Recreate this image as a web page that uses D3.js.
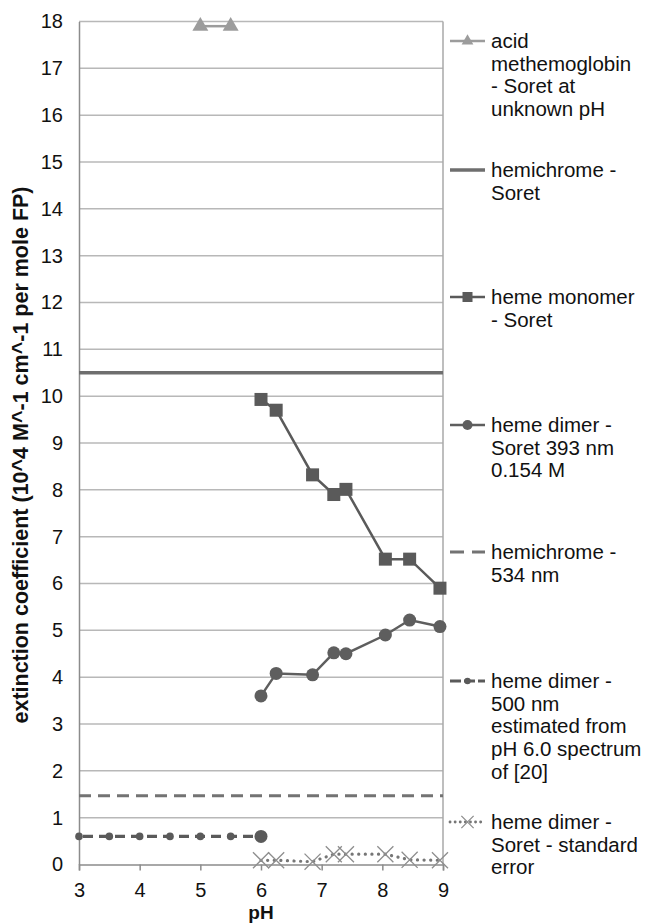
<!DOCTYPE html>
<html>
<head>
<meta charset="utf-8">
<script src="https://cdn.jsdelivr.net/npm/d3@7"></script>
<style>
  html, body { margin: 0; padding: 0; background: #fff; }
  svg { display: block; font-family: "Liberation Sans", Arial, sans-serif; }
</style>
</head>
<body>
<svg id="chart" width="649" height="924"></svg>
<script>
// pH axis ticks and extinction axis ticks
const xTicks = [3, 4, 5, 6, 7, 8, 9];
const yTicks = d3.range(0, 19);

// acid methemoglobin, Soret at unknown pH
const acidMetPH = [5.0, 5.5];
const acidMetEps = [17.9, 17.9];

// hemichrome Soret (constant)
const hemichromeSoretPH = [3, 9];
const hemichromeSoretEps = [10.5, 10.5];

// heme monomer, Soret
const monomerPH = [6.0, 6.25, 6.85, 7.2, 7.4, 8.05, 8.45, 8.95];
const monomerEps = [9.93, 9.7, 8.32, 7.9, 8.01, 6.52, 6.52, 5.9];

// heme dimer, Soret 393 nm, 0.154 M
const dimerPH = [6.0, 6.25, 6.85, 7.2, 7.4, 8.05, 8.45, 8.95];
const dimerEps = [3.6, 4.08, 4.05, 4.52, 4.5, 4.9, 5.22, 5.08];

// hemichrome 534 nm (constant)
const hemichrome534PH = [3, 9];
const hemichrome534Eps = [1.47, 1.47];

// heme dimer 500 nm, estimated from pH 6.0 spectrum
const dimer500PH = [3.0, 3.5, 4.0, 4.5, 5.0, 5.5, 6.0];
const dimer500Eps = [0.6, 0.6, 0.6, 0.6, 0.6, 0.6, 0.6];

// heme dimer Soret standard error
const stdErrPH = [6.0, 6.25, 6.85, 7.2, 7.4, 8.05, 8.45, 8.95];
const stdErrEps = [0.09, 0.09, 0.06, 0.22, 0.22, 0.22, 0.1, 0.09];

// legend entries
const legendLabels = [
  ["acid", "methemoglobin", "- Soret at", "unknown pH"],
  ["hemichrome -", "Soret"],
  ["heme monomer", "- Soret"],
  ["heme dimer -", "Soret 393 nm", "0.154 M"],
  ["hemichrome -", "534 nm"],
  ["heme dimer -", "500 nm", "estimated from", "pH 6.0 spectrum", "of [20]"],
  ["heme dimer -", "Soret - standard", "error"]
];

const svg = d3.select("#chart");
const plot = { left: 79, right: 443, top: 21.5, bottom: 864.5 };

const x = d3.scaleLinear().domain([3, 9]).range([plot.left, plot.right]);
const y = d3.scaleLinear().domain([0, 18]).range([plot.bottom, plot.top]);

const zip = (a, b) => a.map((v, i) => [v, b[i]]);
const line = d3.line().x(d => x(d[0])).y(d => y(d[1]));

// gridlines
svg.append("g")
  .selectAll("line")
  .data(yTicks.filter(v => v > 0))
  .join("line")
  .attr("x1", plot.left).attr("x2", plot.right)
  .attr("y1", d => y(d)).attr("y2", d => y(d))
  .attr("stroke", "#b8b8b8").attr("stroke-width", 1.5);

// right border
svg.append("line")
  .attr("x1", plot.right).attr("x2", plot.right)
  .attr("y1", plot.top).attr("y2", plot.bottom)
  .attr("stroke", "#a8a8a8").attr("stroke-width", 1.5);

// y axis
const yAxis = svg.append("g")
  .attr("transform", `translate(${plot.left},0)`)
  .call(d3.axisLeft(y).tickValues(yTicks).tickSize(0).tickPadding(16).tickFormat(d3.format("d")));
yAxis.select(".domain").attr("stroke", "#8c8c8c").attr("stroke-width", 1.5);
yAxis.selectAll("text").attr("font-size", 20).attr("fill", "#111")
  .attr("font-family", "Liberation Sans, Arial, sans-serif");

// x axis
const xAxis = svg.append("g")
  .attr("transform", `translate(0,${plot.bottom})`)
  .call(d3.axisBottom(x).tickValues(xTicks).tickSize(6).tickPadding(12).tickFormat(d3.format("d")));
xAxis.select(".domain").attr("stroke", "#8c8c8c").attr("stroke-width", 1.5);
xAxis.selectAll(".tick line").attr("stroke", "#8c8c8c").attr("stroke-width", 1.5);
xAxis.selectAll("text").attr("font-size", 20).attr("fill", "#111")
  .attr("font-family", "Liberation Sans, Arial, sans-serif");

// axis titles
svg.append("text")
  .attr("x", x(6)).attr("y", 919)
  .attr("text-anchor", "middle")
  .attr("font-size", 19).attr("font-weight", "bold").attr("fill", "#111")
  .text("pH");

svg.append("text")
  .attr("transform", `translate(28,455) rotate(-90)`)
  .attr("text-anchor", "middle")
  .attr("font-size", 21.5).attr("font-weight", "bold").attr("fill", "#111")
  .text("extinction coefficient (10^4 M^-1 cm^-1 per mole FP)");

// marker helpers
const tri = d3.symbol().type(d3.symbolTriangle).size(110);
const cross = d3.symbol().type(d3.symbolX).size(170);

// hemichrome Soret
svg.append("path").datum(zip(hemichromeSoretPH, hemichromeSoretEps))
  .attr("d", line).attr("fill", "none")
  .attr("stroke", "#6e6e6e").attr("stroke-width", 3.5);

// hemichrome 534 nm
svg.append("path").datum(zip(hemichrome534PH, hemichrome534Eps))
  .attr("d", line).attr("fill", "none")
  .attr("stroke", "#737373").attr("stroke-width", 3)
  .attr("stroke-dasharray", "12,7");

// heme dimer 500 nm
const d500 = zip(dimer500PH, dimer500Eps);
svg.append("path").datum(d500)
  .attr("d", line).attr("fill", "none")
  .attr("stroke", "#5a5a5a").attr("stroke-width", 3.2)
  .attr("stroke-dasharray", "10,6").attr("stroke-dashoffset", -4);
svg.append("g").selectAll("circle").data(d500).join("circle")
  .attr("cx", d => x(d[0])).attr("cy", d => y(d[1]))
  .attr("r", (d, i) => i === d500.length - 1 ? 6.5 : 3.8)
  .attr("fill", "#5a5a5a");

// standard error
const dErr = zip(stdErrPH, stdErrEps);
svg.append("path").datum(dErr)
  .attr("d", line).attr("fill", "none")
  .attr("stroke", "#767676").attr("stroke-width", 3.2)
  .attr("stroke-linecap", "round")
  .attr("stroke-dasharray", "0.1,6.5");
svg.append("g").selectAll("path").data(dErr).join("path")
  .attr("transform", d => `translate(${x(d[0])},${y(d[1])})`)
  .attr("d", cross).attr("fill", "none")
  .attr("stroke", "#8e8e8e").attr("stroke-width", 1.3);

// heme dimer Soret
const dDim = zip(dimerPH, dimerEps);
svg.append("path").datum(dDim)
  .attr("d", line).attr("fill", "none")
  .attr("stroke", "#5e5e5e").attr("stroke-width", 2.5);
svg.append("g").selectAll("circle").data(dDim).join("circle")
  .attr("cx", d => x(d[0])).attr("cy", d => y(d[1]))
  .attr("r", 6.5).attr("fill", "#5e5e5e");

// heme monomer
const dMon = zip(monomerPH, monomerEps);
svg.append("path").datum(dMon)
  .attr("d", line).attr("fill", "none")
  .attr("stroke", "#5a5a5a").attr("stroke-width", 2.5);
svg.append("g").selectAll("rect").data(dMon).join("rect")
  .attr("x", d => x(d[0]) - 6.5).attr("y", d => y(d[1]) - 6.5)
  .attr("width", 13).attr("height", 13).attr("fill", "#5a5a5a");

// acid methemoglobin
const dAcid = zip(acidMetPH, acidMetEps);
svg.append("path").datum(dAcid)
  .attr("d", line).attr("fill", "none")
  .attr("stroke", "#9c9c9c").attr("stroke-width", 2.5);
svg.append("g").selectAll("path").data(dAcid).join("path")
  .attr("transform", d => `translate(${x(d[0])},${y(d[1])})`)
  .attr("d", tri).attr("fill", "#9c9c9c");

// legend
const legendY = [41, 170, 297, 425, 552, 681, 822];
const lx0 = 450, lx1 = 485, tx = 491, lh = 22.7;
const lg = svg.append("g");

legendY.forEach((ly, i) => {
  const g = lg.append("g");
  const seg = g.append("line").attr("x1", lx0).attr("x2", lx1).attr("y1", ly).attr("y2", ly);
  if (i === 0) {
    seg.attr("stroke", "#9c9c9c").attr("stroke-width", 2.5);
    g.append("path").attr("transform", `translate(${(lx0 + lx1) / 2},${ly})`)
      .attr("d", d3.symbol().type(d3.symbolTriangle).size(60)).attr("fill", "#9c9c9c");
  } else if (i === 1) {
    seg.attr("stroke", "#6e6e6e").attr("stroke-width", 3.5);
  } else if (i === 2) {
    seg.attr("stroke", "#5a5a5a").attr("stroke-width", 2.5);
    g.append("rect").attr("x", (lx0 + lx1) / 2 - 5).attr("y", ly - 5)
      .attr("width", 10).attr("height", 10).attr("fill", "#5a5a5a");
  } else if (i === 3) {
    seg.attr("stroke", "#5e5e5e").attr("stroke-width", 2.5);
    g.append("circle").attr("cx", (lx0 + lx1) / 2).attr("cy", ly).attr("r", 5).attr("fill", "#5e5e5e");
  } else if (i === 4) {
    seg.attr("stroke", "#737373").attr("stroke-width", 3).attr("stroke-dasharray", "14,8");
  } else if (i === 5) {
    seg.attr("stroke", "#5a5a5a").attr("stroke-width", 3).attr("stroke-dasharray", "11,3");
    g.append("circle").attr("cx", (lx0 + lx1) / 2).attr("cy", ly).attr("r", 3.2).attr("fill", "#5a5a5a");
  } else {
    seg.attr("stroke", "#767676").attr("stroke-width", 2.8).attr("stroke-linecap", "round")
      .attr("stroke-dasharray", "0.1,5");
    g.append("path").attr("transform", `translate(${(lx0 + lx1) / 2},${ly})`)
      .attr("d", d3.symbol().type(d3.symbolX).size(100)).attr("fill", "none")
      .attr("stroke", "#8e8e8e").attr("stroke-width", 1.3);
  }
  const t = g.append("text").attr("x", tx).attr("y", ly + 7)
    .attr("font-size", 20.5).attr("fill", "#111");
  legendLabels[i].forEach((s, k) => {
    t.append("tspan").attr("x", tx).attr("dy", k === 0 ? 0 : lh).text(s);
  });
});
</script>
</body>
</html>
